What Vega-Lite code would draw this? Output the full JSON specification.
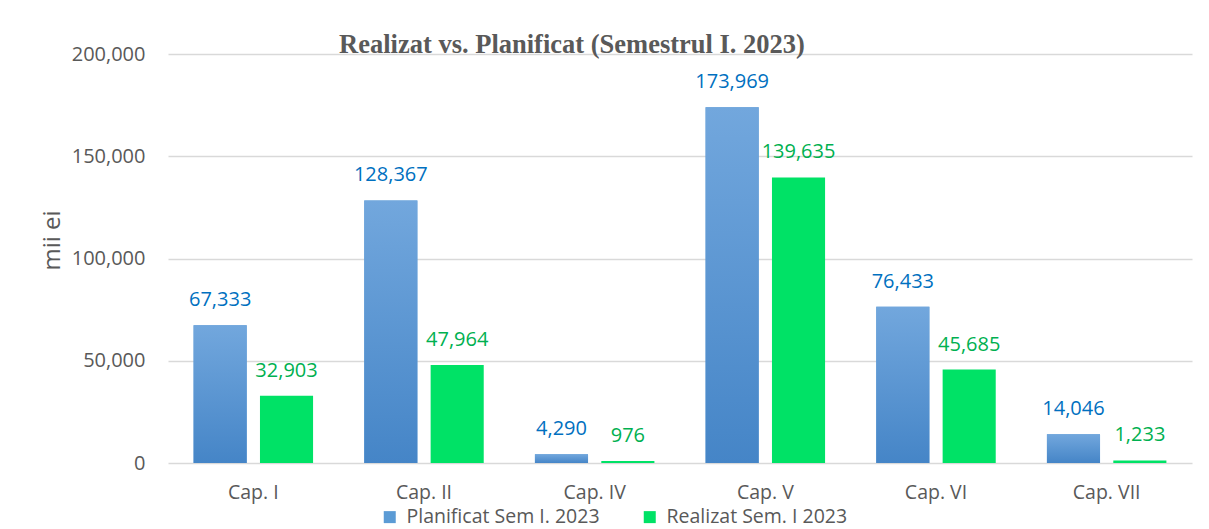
{
  "$schema": "https://vega.github.io/schema/vega-lite/v6.json",
  "width": 1024,
  "height": 409,
  "autosize": {"type": "none"},
  "padding": {"left": 168, "top": 54, "right": 17, "bottom": 66},
  "background": "white",
  "title": {
    "text": "Realizat vs. Planificat (Semestrul I. 2023)",
    "font": "Liberation Serif",
    "fontSize": 26.5,
    "fontWeight": "bold",
    "color": "#595959",
    "anchor": "middle",
    "frame": "group",
    "dx": -108,
    "offset": -35,
    "baseline": "alphabetic"
  },
  "data": {
    "values": [
      {"cap": "Cap. I", "serie": "Planificat Sem I. 2023", "value": 67333},
      {"cap": "Cap. I", "serie": "Realizat Sem. I 2023", "value": 32903},
      {"cap": "Cap. II", "serie": "Planificat Sem I. 2023", "value": 128367},
      {"cap": "Cap. II", "serie": "Realizat Sem. I 2023", "value": 47964},
      {"cap": "Cap. IV", "serie": "Planificat Sem I. 2023", "value": 4290},
      {"cap": "Cap. IV", "serie": "Realizat Sem. I 2023", "value": 976},
      {"cap": "Cap. V", "serie": "Planificat Sem I. 2023", "value": 173969},
      {"cap": "Cap. V", "serie": "Realizat Sem. I 2023", "value": 139635},
      {"cap": "Cap. VI", "serie": "Planificat Sem I. 2023", "value": 76433},
      {"cap": "Cap. VI", "serie": "Realizat Sem. I 2023", "value": 45685},
      {"cap": "Cap. VII", "serie": "Planificat Sem I. 2023", "value": 14046},
      {"cap": "Cap. VII", "serie": "Realizat Sem. I 2023", "value": 1233}
    ]
  },
  "encoding": {
    "x": {
      "field": "cap",
      "type": "nominal",
      "sort": ["Cap. I", "Cap. II", "Cap. IV", "Cap. V", "Cap. VI", "Cap. VII"],
      "scale": {"paddingInner": 0.3, "paddingOuter": 0.15},
      "title": null,
      "axis": {
        "labelAngle": 0,
        "labelPadding": 20,
        "labelFontSize": 19.5,
        "domain": false,
        "ticks": false,
        "grid": false
      }
    },
    "xOffset": {
      "field": "serie",
      "type": "nominal",
      "sort": ["Planificat Sem I. 2023", "Realizat Sem. I 2023"],
      "scale": {"paddingInner": 0.2}
    },
    "y": {
      "field": "value",
      "type": "quantitative",
      "scale": {"domain": [0, 200000]},
      "title": "mii ei",
      "axis": {
        "values": [0, 50000, 100000, 150000, 200000],
        "format": ",d",
        "grid": true,
        "gridColor": "#d9d9d9",
        "gridWidth": 1.5,
        "domain": false,
        "ticks": false,
        "labelPadding": 23,
        "titlePadding": 7,
        "titleY": 186
      }
    }
  },
  "layer": [
    {
      "mark": {"type": "bar"},
      "encoding": {
        "color": {
          "field": "serie",
          "type": "nominal",
          "scale": {
            "domain": ["Planificat Sem I. 2023", "Realizat Sem. I 2023"],
            "range": ["#5b9bd5", "#00e266"]
          },
          "legend": {
            "orient": "none",
            "legendX": 212,
            "legendY": 453,
            "direction": "horizontal",
            "title": null,
            "symbolType": "square",
            "symbolSize": 144,
            "symbolStrokeWidth": 0,
            "symbolOpacity": 1,
            "labelFontSize": 19.5,
            "labelFont": "Open Sans",
            "labelColor": "#595959",
            "labelLimit": 0,
            "columnPadding": 40,
            "labelOffset": 7
          }
        }
      }
    },
    {
      "transform": [{"filter": "datum.serie === 'Planificat Sem I. 2023'"}],
      "mark": {
        "type": "bar",
        "fill": {
          "gradient": "linear",
          "x1": 0, "y1": 0, "x2": 0, "y2": 1,
          "stops": [
            {"offset": 0, "color": "#72a7dd"},
            {"offset": 1, "color": "#4585c7"}
          ]
        }
      }
    },
    {
      "mark": {"type": "text", "dy": -19, "baseline": "alphabetic", "font": "Open Sans", "fontSize": 20},
      "encoding": {
        "text": {"field": "value", "type": "quantitative", "format": ",d"},
        "color": {
          "condition": {"test": "datum.serie === 'Planificat Sem I. 2023'", "value": "#0070c0"},
          "value": "#00b050"
        }
      }
    }
  ],
  "config": {
    "view": {"stroke": null},
    "axis": {
      "labelFont": "Open Sans",
      "labelFontSize": 20,
      "labelColor": "#595959",
      "titleFont": "Open Sans",
      "titleFontSize": 24,
      "titleFontWeight": "normal",
      "titleColor": "#595959"
    }
  }
}
